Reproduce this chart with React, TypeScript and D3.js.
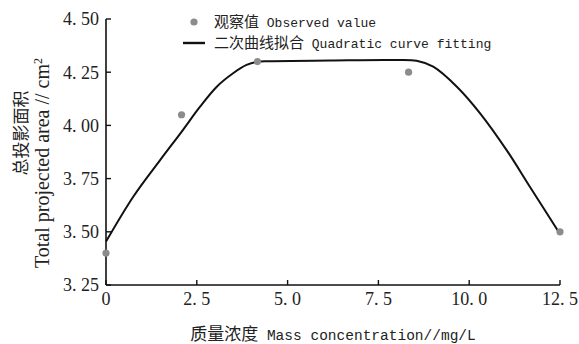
import React from "react";
import * as d3 from "d3";

// observed values
const obsConc = [0, 2.08, 4.17, 8.33, 12.5];
const obsArea = [3.4, 4.05, 4.3, 4.25, 3.5];

// fitted curve
const fitConc = [0, 0.75, 1.49, 2.08, 2.59, 3.05, 3.5, 3.87, 4.15, 4.51, 6.2, 7.82, 8.55, 9.01, 9.66, 10.3, 11.03, 11.67, 12.5];
const fitArea = [3.454, 3.665, 3.837, 3.97, 4.088, 4.182, 4.245, 4.284, 4.299, 4.302, 4.305, 4.307, 4.304, 4.276, 4.182, 4.057, 3.884, 3.712, 3.49];

const xTicks = [0, 2.5, 5.0, 7.5, 10.0, 12.5];
const yTicks = [3.25, 3.5, 3.75, 4.0, 4.25, 4.5];

const mono = "'Liberation Mono', monospace";
const serif = "'Liberation Serif', serif";
const cjk = "'Noto Sans CJK SC', sans-serif";

const width = 579, height = 344;
const x = d3.scaleLinear().domain([0, 12.5]).range([106, 560]);
const y = d3.scaleLinear().domain([3.25, 4.5]).range([285, 19]);

const fmtX = (d: number) => (d === 0 ? "0" : d3.format(".1f")(d).replace(".", ". "));
const fmtY = (d: number) => d3.format(".2f")(d).replace(".", ". ");

const App = () => {
  const fit = fitConc.map((c, i) => [c, fitArea[i]] as [number, number]);
  const line = d3.line<[number, number]>()
    .x(d => x(d[0]))
    .y(d => y(d[1]))
    .curve(d3.curveCatmullRom.alpha(0.5));

  const x0 = x(0), y0 = y(3.25);

  return (
    <svg width={width} height={height}
      style={{ position: "absolute", left: 0, top: 0, background: "#fff" }}>
      {/* X-axis */}
      <line x1={x0} x2={x(12.5)} y1={y0} y2={y0} stroke="#111" strokeWidth={1.6} />
      {xTicks.map(t => (
        <g key={"x" + t} transform={`translate(${x(t)},${y0})`}>
          <line y2={-5} stroke="#111" strokeWidth={1.4} />
          <text y={20} textAnchor="middle" fill="#222"
            style={{ fontFamily: serif, fontSize: 18 }}>{fmtX(t)}</text>
        </g>
      ))}

      {/* Y-axis */}
      <line x1={x0} x2={x0} y1={y0} y2={y(4.5)} stroke="#111" strokeWidth={1.6} />
      {yTicks.map(t => (
        <g key={"y" + t} transform={`translate(${x0},${y(t)})`}>
          <line x2={5} stroke="#111" strokeWidth={1.4} />
          <text x={-7} dy="0.35em" textAnchor="end" fill="#222"
            style={{ fontFamily: serif, fontSize: 18 }}>{fmtY(t)}</text>
        </g>
      ))}

      {/* fitted curve */}
      <path d={line(fit) || ""} fill="none" stroke="#111" strokeWidth={2} />

      {/* observed points */}
      {obsConc.map((c, i) => (
        <circle key={"p" + i} cx={x(c)} cy={y(obsArea[i])} r={3.6} fill="#8c8c8c" />
      ))}

      {/* Legend */}
      <circle cx={194} cy={22} r={3.6} fill="#8c8c8c" />
      <line x1={183} x2={205} y1={43} y2={43} stroke="#111" strokeWidth={2.4} />
      <text x={214} y={27} fill="#222">
        <tspan style={{ fontFamily: cjk, fontSize: 15 }}>观察值</tspan>
        <tspan style={{ fontFamily: mono, fontSize: 13 }}> Observed value</tspan>
      </text>
      <text x={214} y={48} fill="#222">
        <tspan style={{ fontFamily: cjk, fontSize: 15 }}>二次曲线拟合</tspan>
        <tspan style={{ fontFamily: mono, fontSize: 13 }}> Quadratic curve fitting</tspan>
      </text>

      {/* X-axis label */}
      <text x={333} y={340} textAnchor="middle" fill="#222">
        <tspan style={{ fontFamily: cjk, fontSize: 17 }}>质量浓度</tspan>
        <tspan style={{ fontFamily: mono, fontSize: 14.5 }}> Mass concentration//mg/L</tspan>
      </text>

      {/* Y-axis label */}
      <text transform="rotate(-90)" x={-133} y={27} textAnchor="middle" fill="#222"
        style={{ fontFamily: cjk, fontSize: 17 }}>总投影面积</text>
      <text transform="rotate(-90)" x={-163} y={49} textAnchor="middle" fill="#222"
        style={{ fontFamily: serif, fontSize: 20 }}>
        <tspan>Total projected area // cm</tspan>
        <tspan dy={-7} style={{ fontSize: 12 }}>2</tspan>
      </text>
    </svg>
  );
};

export default App;
